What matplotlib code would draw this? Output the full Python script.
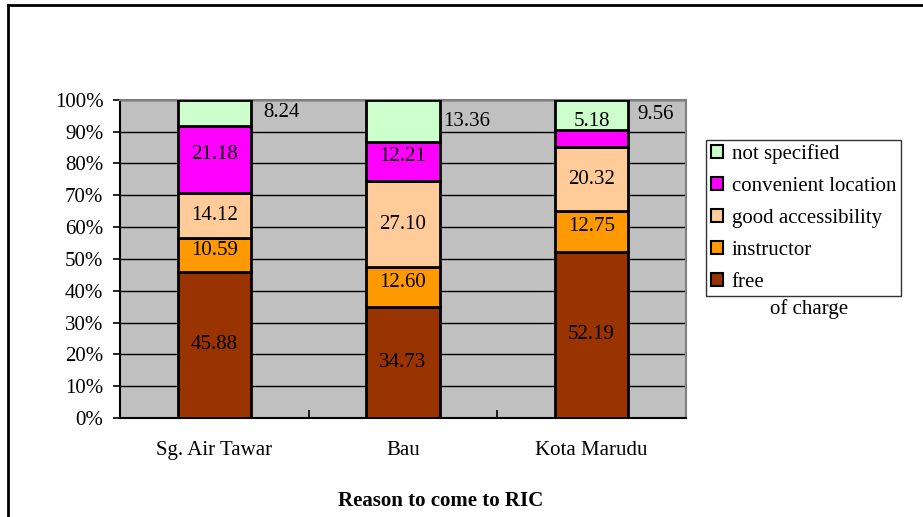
import matplotlib.pyplot as plt
import numpy as np
from matplotlib.lines import Line2D
from matplotlib.patches import Patch

plt.rcParams['font.family'] = ['Liberation Serif', 'DejaVu Serif']

# Survey data: percentage of respondents by reason, per site
sites = ['Sg. Air Tawar', 'Bau', 'Kota Marudu']
reasons = ['free', 'instructor', 'good accessibility',
           'convenient location', 'not specified']
free = [45.88, 34.73, 52.19]
instructor = [10.59, 12.60, 12.75]
good_access = [14.12, 27.10, 20.32]
convenient = [21.18, 12.21, 5.18]
not_specified = [8.24, 13.36, 9.56]

colors = ['#993300', '#FF9900', '#FFCC99', '#FF00FF', '#CCFFCC']
series = [free, instructor, good_access, convenient, not_specified]
FS = 15

fig = plt.figure(figsize=(9.23, 5.17), dpi=100)
ax = fig.add_axes([0.130, 0.1915, 0.613, 0.6155])
ax.set_facecolor('#C0C0C0')

x = np.arange(len(sites))
width = 0.39
bottom = np.zeros(len(sites))
for vals, col in zip(series, colors):
    vals = np.array(vals)
    ax.bar(x, vals, width, bottom=bottom, color=col, edgecolor='black',
           linewidth=2, zorder=3)
    bottom += vals

# segment labels
side_gap = [0.065, 0.02, 0.05]
bottom = np.zeros(len(sites))
for k, vals in enumerate(series):
    for i, v in enumerate(vals):
        mid = bottom[i] + v / 2
        if k == 4:
            # top segment: value written beside the bar
            ax.text(x[i] + width / 2 + side_gap[i], mid, f'{v:.2f}',
                    ha='left', va='center', fontsize=FS, zorder=4)
        elif k == 3 and i == 2:
            ax.text(x[i], mid + 5.3, f'{v:.2f}', ha='center', va='center',
                    fontsize=FS, zorder=4)
        else:
            dy = 1.5 if k in (1, 3) else 0
            ax.text(x[i], mid + dy, f'{v:.2f}', ha='center', va='center',
                    fontsize=FS, zorder=4)
    bottom += np.array(vals)

ax.set_xlim(-0.5, 2.5)
ax.set_ylim(0, 100)
ax.set_yticks(np.arange(0, 101, 10))
ax.set_yticklabels([f'{t}%' for t in range(0, 101, 10)], fontsize=FS)
ax.yaxis.grid(True, color='black', linewidth=1)
ax.set_axisbelow(True)
ax.tick_params(axis='y', direction='out', length=5, width=1.2, pad=7)

ax.set_xticks([-0.5, 0.5, 1.5, 2.5])
ax.set_xticklabels([])
ax.tick_params(axis='x', direction='in', length=6, width=1.2)
for i, s in enumerate(sites):
    ax.text(x[i], -10.1, s, ha='center', va='center', fontsize=FS)

for side in ['left', 'bottom']:
    ax.spines[side].set_color('black')
    ax.spines[side].set_linewidth(1.5)
for side in ['top', 'right']:
    ax.spines[side].set_color('#808080')
    ax.spines[side].set_linewidth(1.5)

fig.text(0.477, 0.031, 'Reason to come to RIC', ha='center', va='center',
         fontsize=FS, fontweight='bold')

# legend, top item first
handles = [Patch(facecolor=c, edgecolor='black', linewidth=1.5)
           for c in colors[::-1]]
leg = fig.legend(handles, reasons[::-1], loc='upper left',
                 bbox_to_anchor=(0.765, 0.73), fontsize=FS,
                 frameon=True, fancybox=False, edgecolor='black',
                 handlelength=0.6, handleheight=0.6, handletextpad=0.4,
                 labelspacing=0.62, borderpad=0.22, borderaxespad=0)
leg.get_frame().set_linewidth(1)
fig.text(0.877, 0.402, 'of charge', ha='center', va='center', fontsize=FS)

# outer chart frame (left and top edges)
fig.add_artist(Line2D([0.009, 0.009], [0, 0.99], color='black', linewidth=2,
                      transform=fig.transFigure))
fig.add_artist(Line2D([0.009, 1.0], [0.99, 0.99], color='black', linewidth=2,
                      transform=fig.transFigure))

fig.savefig('out.png', dpi=100)
